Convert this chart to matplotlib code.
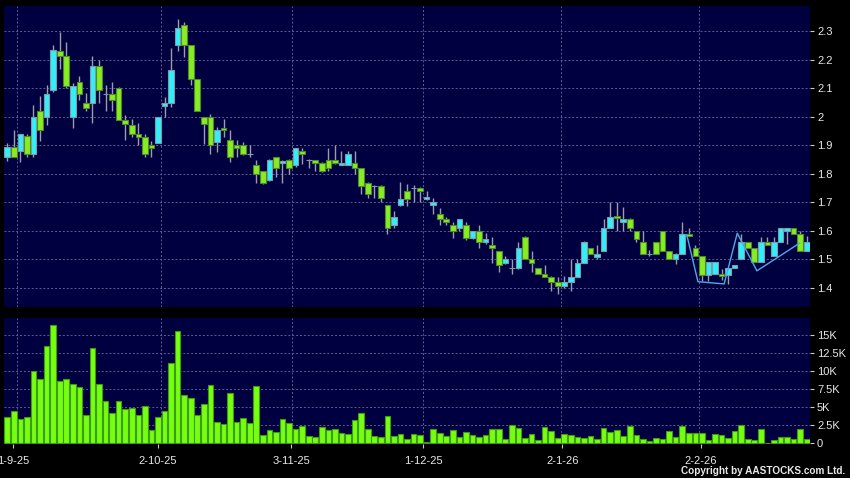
import matplotlib
matplotlib.use("Agg")
import matplotlib.pyplot as plt
import numpy as np

# daily OHLC (one entry per trading day)
opens = [1.86, 1.893, 1.879, 1.931, 1.869, 2.022, 1.999, 2.093, 2.232, 2.213,
         1.999, 2.121, 2.049, 2.049, 2.18, 2.081, 2.081, 2.102, 1.989, 1.972,
         1.94, 1.929, 1.902, 1.907, 2.039, 2.049, 2.251, 2.321, 2.251, 2.131,
         2.0, 2.0, 1.911, 1.961, 1.919, 1.901, 1.901, 1.869, 1.83, 1.808,
         1.777, 1.857, 1.839, 1.847, 1.83, 1.88, 1.847, 1.847, 1.839, 1.847,
         1.847, 1.83, 1.83, 1.839, 1.819, 1.769, 1.757, 1.757, 1.691, 1.619,
         1.69, 1.741, 1.751, 1.751, 1.711, 1.691, 1.659, 1.641, 1.621, 1.609,
         1.621, 1.576, 1.60, 1.559, 1.549, 1.529, 1.488, 1.468, 1.468, 1.579,
         1.50, 1.468, 1.447, 1.439, 1.419, 1.407, 1.419, 1.439, 1.488, 1.539,
         1.508, 1.529, 1.609, 1.65, 1.631, 1.642, 1.598, 1.562, 1.519, 1.559,
         1.598, 1.528, 1.50, 1.519, 1.589, 1.539, 1.51, 1.443, 1.449, 1.449,
         1.443, 1.47, 1.502, 1.56, 1.539, 1.491, 1.56, 1.51, 1.56, 1.598,
         1.609, 1.589, 1.528]
highs = [1.907, 1.952, 1.94, 1.94, 2.04, 2.072, 2.11, 2.252, 2.299, 2.262,
         2.119, 2.142, 2.084, 2.213, 2.201, 2.11, 2.122, 2.105, 2.005, 1.992,
         1.978, 1.94, 1.916, 2.0, 2.069, 2.24, 2.342, 2.333, 2.251, 2.131,
         2.0, 2.011, 1.964, 1.993, 1.952, 1.919, 1.911, 1.902, 1.847, 1.81,
         1.85, 1.857, 1.847, 1.85, 1.892, 1.892, 1.85, 1.847, 1.84, 1.892,
         1.901, 1.88, 1.88, 1.88, 1.82, 1.77, 1.76, 1.76, 1.691, 1.67,
         1.772, 1.765, 1.762, 1.752, 1.741, 1.715, 1.68, 1.649, 1.629, 1.641,
         1.629, 1.60, 1.621, 1.591, 1.579, 1.53, 1.512, 1.50, 1.562, 1.58,
         1.529, 1.47, 1.479, 1.44, 1.438, 1.441, 1.50, 1.50, 1.565, 1.54,
         1.551, 1.641, 1.70, 1.70, 1.683, 1.643, 1.60, 1.598, 1.531, 1.56,
         1.60, 1.53, 1.52, 1.63, 1.61, 1.548, 1.51, 1.49, 1.49, 1.467,
         1.47, 1.481, 1.589, 1.56, 1.54, 1.577, 1.577, 1.577, 1.609, 1.61,
         1.61, 1.60, 1.583]
lows = [1.846, 1.858, 1.84, 1.858, 1.858, 1.916, 1.97, 2.087, 2.169, 2.102,
        1.96, 2.058, 2.02, 1.978, 2.048, 2.02, 2.02, 1.989, 1.919, 1.928,
        1.902, 1.858, 1.858, 1.907, 1.999, 2.036, 2.232, 2.211, 2.111, 2.022,
        1.905, 1.869, 1.875, 1.928, 1.84, 1.858, 1.867, 1.858, 1.769, 1.765,
        1.775, 1.787, 1.769, 1.798, 1.822, 1.833, 1.819, 1.808, 1.805, 1.808,
        1.833, 1.83, 1.83, 1.798, 1.728, 1.716, 1.716, 1.70, 1.588, 1.609,
        1.686, 1.688, 1.70, 1.70, 1.709, 1.659, 1.621, 1.621, 1.576, 1.60,
        1.567, 1.571, 1.539, 1.553, 1.488, 1.456, 1.482, 1.447, 1.466, 1.50,
        1.456, 1.447, 1.439, 1.388, 1.379, 1.398, 1.388, 1.438, 1.487, 1.518,
        1.50, 1.528, 1.608, 1.60, 1.60, 1.60, 1.56, 1.519, 1.51, 1.519,
        1.528, 1.50, 1.482, 1.518, 1.58, 1.51, 1.423, 1.423, 1.449, 1.426,
        1.412, 1.469, 1.50, 1.539, 1.491, 1.49, 1.549, 1.51, 1.559, 1.554,
        1.589, 1.528, 1.527]
closes = [1.893, 1.86, 1.94, 1.869, 2.0, 1.952, 2.081, 2.234, 2.213, 2.107,
          2.109, 2.081, 2.031, 2.18, 2.093, 2.081, 2.06, 1.989, 1.973, 1.94,
          1.929, 1.869, 1.891, 2.0, 2.049, 2.164, 2.311, 2.251, 2.131, 2.022,
          1.973, 1.902, 1.952, 1.952, 1.86, 1.891, 1.869, 1.869, 1.798, 1.769,
          1.847, 1.819, 1.845, 1.819, 1.889, 1.868, 1.847, 1.839, 1.808, 1.819,
          1.839, 1.839, 1.868, 1.819, 1.757, 1.728, 1.757, 1.716, 1.609, 1.649,
          1.712, 1.712, 1.751, 1.739, 1.72, 1.702, 1.641, 1.629, 1.60, 1.641,
          1.576, 1.60, 1.559, 1.571, 1.538, 1.479, 1.50, 1.468, 1.539, 1.50,
          1.488, 1.447, 1.439, 1.419, 1.407, 1.419, 1.439, 1.488, 1.559, 1.518,
          1.518, 1.609, 1.648, 1.643, 1.642, 1.609, 1.572, 1.519, 1.519, 1.519,
          1.528, 1.50, 1.519, 1.589, 1.58, 1.51, 1.443, 1.49, 1.49, 1.442,
          1.47, 1.481, 1.56, 1.539, 1.491, 1.56, 1.549, 1.56, 1.609, 1.609,
          1.589, 1.528, 1.56]
volumes = [3700, 4540, 3330, 3700, 10050, 8980, 13570, 16390, 8660, 8890,
           8240, 7820, 3940, 13290, 8190, 5880, 4260, 5930, 4720, 4950,
           3940, 5230, 1850, 3700, 4540, 11110, 15650, 6710, 6250, 3940,
           5460, 8060, 3010, 2690, 6940, 3010, 3520, 2820, 8010, 1200,
           1850, 1620, 3430, 2870, 2040, 2410, 970, 930, 2220, 1810,
           1940, 1440, 1300, 3240, 4170, 1990, 1020, 880, 3840, 1020,
           1340, 560, 1300, 1110, 230, 2040, 1440, 1020, 1900, 830,
           1620, 1160, 880, 1110, 2040, 1940, 600, 2500, 2130, 740,
           1250, 460, 2220, 1760, 690, 1300, 1160, 880, 790, 1070,
           560, 2130, 1570, 1850, 1020, 2360, 1110, 560, 280, 690,
           560, 1760, 830, 2410, 1390, 1480, 1390, 460, 1340, 1200,
           740, 1670, 2500, 560, 460, 1940, 90, 460, 830, 880,
           560, 1940, 560]

# date labels: trading-day index of each date (grid line sits just after it)
# and where the chart puts the label itself
date_labels = ["1-9-25", "2-10-25", "3-11-25", "1-12-25", "2-1-26", "2-2-26"]
date_index = [1, 23, 43, 63, 84, 105]
date_label_pos = [0.9, 23.0, 43.3, 63.5, 84.7, 105.8]

# hand-drawn pattern line (day index, price)
pattern_x = [103.7, 105.4, 109.4, 111.4, 114.4, 120.9]
pattern_y = [1.585, 1.421, 1.413, 1.591, 1.459, 1.556]

price_ticks = [1.4, 1.5, 1.6, 1.7, 1.8, 1.9, 2.0, 2.1, 2.2, 2.3]
price_tick_labels = ["1.4", "1.5", "1.6", "1.7", "1.8", "1.9", "2", "2.1", "2.2", "2.3"]
vol_ticks = [0, 2500, 5000, 7500, 10000, 12500, 15000]
vol_tick_labels = ["0", "2.5K", "5K", "7.5K", "10K", "12.5K", "15K"]

BG = "#000040"
GRID = "#5c5c92"
UP = "#33eef8"
UP_EDGE = "#7a9cab"
DOWN = "#88ec22"
DOWN_EDGE = "#4c8a2a"
WICK = "#9c9cac"
VOL = "#77ff11"
VOL_EDGE = "#3c9c12"
TEXT = "#e8e8e8"

plt.rcParams["font.family"] = ["Liberation Sans", "DejaVu Sans"]

o = np.array(opens)
h = np.array(highs)
l = np.array(lows)
c = np.array(closes)
v = np.array(volumes)
x = np.arange(len(o))
up = c >= o

fig = plt.figure(figsize=(8.5, 4.78), dpi=100, facecolor="black")
ax = fig.add_axes([4 / 850, 1 - 307 / 478, 806 / 850, 301 / 478])
axv = fig.add_axes([4 / 850, 1 - 444 / 478, 806 / 850, 126 / 478])

for a in (ax, axv):
    a.set_facecolor(BG)
    for s in a.spines.values():
        s.set_visible(False)
    a.set_xlim(-0.5, 122.5)
    a.yaxis.tick_right()
    a.tick_params(axis="y", colors="#c8c8c8", labelcolor=TEXT, labelsize=8, length=3, pad=2)
    for xi in date_index:
        a.axvline(xi + 0.5, color=GRID, lw=0.7, ls=(0, (2, 2)), zorder=1)

# price panel
ax.set_ylim(1.332, 2.389)
ax.set_yticks(price_ticks)
ax.set_yticklabels(price_tick_labels)
ax.set_xticks([])
for yt in price_ticks:
    ax.axhline(yt, color=GRID, lw=0.7, ls=(0, (2, 2)), zorder=1)

ax.vlines(x, l, h, color=WICK, lw=1, zorder=2)
body_bottom = np.minimum(o, c)
body_height = np.abs(c - o)
ax.bar(x[up], body_height[up], bottom=body_bottom[up], width=0.86,
       color=UP, edgecolor=UP_EDGE, linewidth=0.8, zorder=3)
ax.bar(x[~up], body_height[~up], bottom=body_bottom[~up], width=0.86,
       color=DOWN, edgecolor=DOWN_EDGE, linewidth=0.8, zorder=3)
ax.plot(pattern_x, pattern_y, color="#4fa8e8", lw=1, zorder=4)

# volume panel
axv.set_ylim(-100, 17400)
axv.set_yticks(vol_ticks)
axv.set_yticklabels(vol_tick_labels)
for yt in vol_ticks[1:]:
    axv.axhline(yt, color=GRID, lw=0.7, ls=(0, (2, 2)), zorder=1)
axv.bar(x, v, width=0.86, color=VOL, edgecolor=VOL_EDGE, linewidth=0.8, zorder=3)
axv.set_xticks(date_label_pos)
axv.set_xticklabels(date_labels)
axv.tick_params(axis="x", colors="#c8c8c8", labelcolor=TEXT, labelsize=8, length=3, pad=6)

fig.text(845 / 850, 1 - 471 / 478, "Copyright by AASTOCKS.com Ltd.", color=TEXT,
         fontsize=7.2, fontweight="bold", ha="right", va="center")

fig.savefig("out.png", dpi=100, facecolor="black")
